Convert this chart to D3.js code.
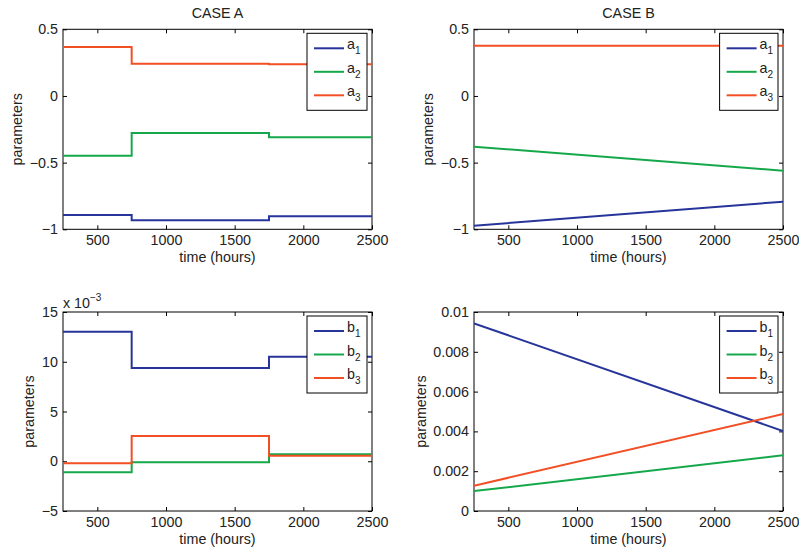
<!DOCTYPE html>
<html>
<head>
<meta charset="utf-8">
<script src="https://cdn.jsdelivr.net/npm/d3@7"></script>
<style>
  body { margin: 0; background: #fff; }
  svg { display: block; }
  text { font-family: "Liberation Sans", Arial, Helvetica, sans-serif; fill: #222; }
</style>
</head>
<body>
<svg id="chart" width="799" height="549"></svg>
<script>
// ---------- data ----------
const timeA = [250, 750, 1750, 2500];          // step breakpoints (Case A)
const timeB = [250, 2500];                      // linear end points (Case B)

const a1A = [-0.893, -0.933, -0.903, -0.903];
const a2A = [-0.448, -0.278, -0.310, -0.310];
const a3A = [0.367, 0.242, 0.237, 0.237];

const a1B = [-0.973, -0.793];
const a2B = [-0.380, -0.560];
const a3B = [0.377, 0.377];

const b1A = [0.01302, 0.00937, 0.01051, 0.01051];
const b2A = [-0.00111, -0.00011, 0.00070, 0.00070];
const b3A = [-0.00021, 0.00254, 0.00056, 0.00056];

const b1B = [0.00943, 0.00402];
const b2B = [0.00100, 0.00280];
const b3B = [0.00127, 0.00487];

const xTicks = [500, 1000, 1500, 2000, 2500];
const aTicks = [-1, -0.5, 0, 0.5];
const bATicks = [-0.005, 0, 0.005, 0.010, 0.015];
const bBTicks = [0, 0.002, 0.004, 0.006, 0.008, 0.010];

const titles = ["CASE A", "CASE B", "", ""];
const seriesColors = ["#27349a", "#15a84a", "#f24f24"];

// ---------- layout ----------
const svg = d3.select("#chart");
const minus = s => s.replace("-", "\u2212");
const FS = "14.3px";

const panels = [
  { box: [63, 372, 29.3, 229.3], x: timeA, ys: [a1A, a2A, a3A], step: true,  ydom: [-1, 0.5], yticks: aTicks,
    fmt: d => minus(String(d)), names: "a", title: titles[0], legW: 60, ylabX: 22 },
  { box: [474, 783, 29.3, 229.3], x: timeB, ys: [a1B, a2B, a3B], step: false, ydom: [-1, 0.5], yticks: aTicks,
    fmt: d => minus(String(d)), names: "a", title: titles[1], legW: 58.4, ylabX: 433 },
  { box: [63, 372, 312, 511], x: timeA, ys: [b1A, b2A, b3A], step: true,  ydom: [-0.005, 0.015], yticks: bATicks,
    fmt: d => minus(String(Math.round(d * 1000))), names: "b", title: titles[2], legW: 60, ylabX: 34, exp: true },
  { box: [474, 783, 312, 511], x: timeB, ys: [b1B, b2B, b3B], step: false, ydom: [0, 0.01], yticks: bBTicks,
    fmt: d => d === 0 ? "0" : String(+d.toFixed(3)), names: "b", title: titles[3], legW: 58.4, ylabX: 426 }
];

panels.forEach(p => {
  const [x0, x1, y0, y1] = p.box;
  const xs = d3.scaleLinear().domain([250, 2500]).range([x0, x1]);
  const ys = d3.scaleLinear().domain(p.ydom).range([y1, y0]);
  const g = svg.append("g");

  // frame
  g.append("rect").attr("x", x0).attr("y", y0).attr("width", x1 - x0).attr("height", y1 - y0)
    .attr("fill", "none").attr("stroke", "#000").attr("stroke-width", 1);

  // axes
  const ax = (gen, tr) => {
    const a = g.append("g").attr("transform", tr).call(gen);
    a.select(".domain").remove();
    a.selectAll("line").attr("stroke", "#000");
    a.selectAll("text").style("font-size", FS).attr("fill", "#222")
      .style("font-family", '"Liberation Sans", Arial, sans-serif');
    return a;
  };
  ax(d3.axisBottom(xs).tickValues(xTicks).tickSize(-4).tickPadding(6).tickFormat(d3.format("d")),
     `translate(0,${y1})`);
  ax(d3.axisTop(xs).tickValues(xTicks).tickSize(-4).tickFormat(""), `translate(0,${y0})`);
  ax(d3.axisLeft(ys).tickValues(p.yticks).tickSize(-4).tickPadding(5).tickFormat(p.fmt),
     `translate(${x0},0)`);
  ax(d3.axisRight(ys).tickValues(p.yticks).tickSize(-4).tickFormat(""), `translate(${x1},0)`);

  // series lines
  const clipId = "clip" + x0 + "_" + Math.round(y0);
  svg.append("clipPath").attr("id", clipId).append("rect")
    .attr("x", x0).attr("y", y0 - 2).attr("width", x1 - x0).attr("height", y1 - y0 + 4);
  p.ys.forEach((vals, i) => {
    const line = d3.line().x((d, j) => xs(p.x[j])).y(d => ys(d))
      .curve(p.step ? d3.curveStepAfter : d3.curveLinear);
    g.append("path").datum(vals).attr("d", line).attr("fill", "none")
      .attr("stroke", seriesColors[i]).attr("stroke-width", 2).attr("clip-path", `url(#${clipId})`);
  });

  // legend
  const lx = x1 - 5 - p.legW, ly = y0 + 4;
  const lg = g.append("g").attr("transform", `translate(${lx},${ly})`);
  lg.append("rect").attr("width", p.legW).attr("height", 77).attr("fill", "#fff")
    .attr("stroke", "#000").attr("stroke-width", 1);
  [15, 38.5, 62].forEach((ry, i) => {
    lg.append("line").attr("x1", 7).attr("x2", 37).attr("y1", ry).attr("y2", ry)
      .attr("stroke", seriesColors[i]).attr("stroke-width", 2);
    const t = lg.append("text").attr("x", 40).attr("y", ry + 1).style("font-size", FS);
    t.append("tspan").text(p.names);
    t.append("tspan").attr("dy", 5).style("font-size", "10px").text(String(i + 1));
  });

  // title
  if (p.title) {
    g.append("text").attr("x", (x0 + x1) / 2).attr("y", y0 - 11).attr("text-anchor", "middle")
      .style("font-size", FS).text(p.title);
  }
  // x label
  g.append("text").attr("x", (x0 + x1) / 2).attr("y", y1 + 33).attr("text-anchor", "middle")
    .style("font-size", FS).text("time (hours)");
  // y label
  g.append("text").attr("transform", `translate(${p.ylabX},${(y0 + y1) / 2}) rotate(-90)`)
    .attr("text-anchor", "middle").style("font-size", FS).text("parameters");

  // exponent
  if (p.exp) {
    const e = g.append("text").attr("x", x0).attr("y", y0 - 4).style("font-size", FS);
    e.append("tspan").text("x 10");
    e.append("tspan").attr("dy", -7).style("font-size", "10px").text("\u22123");
  }
});
</script>
</body>
</html>
